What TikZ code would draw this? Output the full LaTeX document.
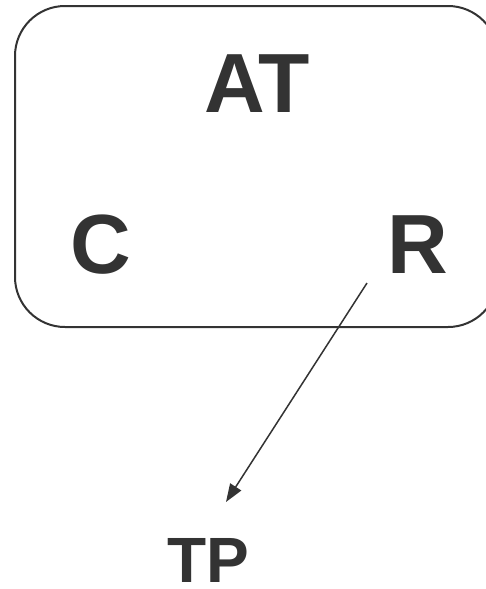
\documentclass[tikz,border=0pt]{standalone}
\usepackage{fontspec}
\setmainfont{Liberation Sans}
\usetikzlibrary{arrows.meta}
\definecolor{ink}{HTML}{333333}
\tikzset{
  lbl/.style={text=ink, font=\fontsize{84}{84}\selectfont\bfseries, inner sep=0pt, anchor=base, text depth=0pt},
  small/.style={font=\fontsize{64}{64}\selectfont\bfseries},
  frame/.style={draw=ink, line width=2pt, rounded corners=50pt},
  link/.style={draw=ink, line width=1.5pt, -{Triangle[length=18pt,width=13pt]}}
}
\begin{document}
\begin{tikzpicture}[x=1pt,y=-1pt]
  \useasboundingbox (0,0) rectangle (485,589);
  \draw[frame] (15,6) rectangle (498,327);
  \node[lbl] (AT) at (257,112) {AT};
  \node[lbl] (C) at (101,273) {C};
  \node[lbl] (R) at (418,273) {R};
  \node[lbl, small] (TP) at (208,582) {TP};
  \coordinate (from) at (367,283);
  \coordinate (to) at (226,502);
  \draw[link] (from) -- (to);
\end{tikzpicture}
\end{document}
